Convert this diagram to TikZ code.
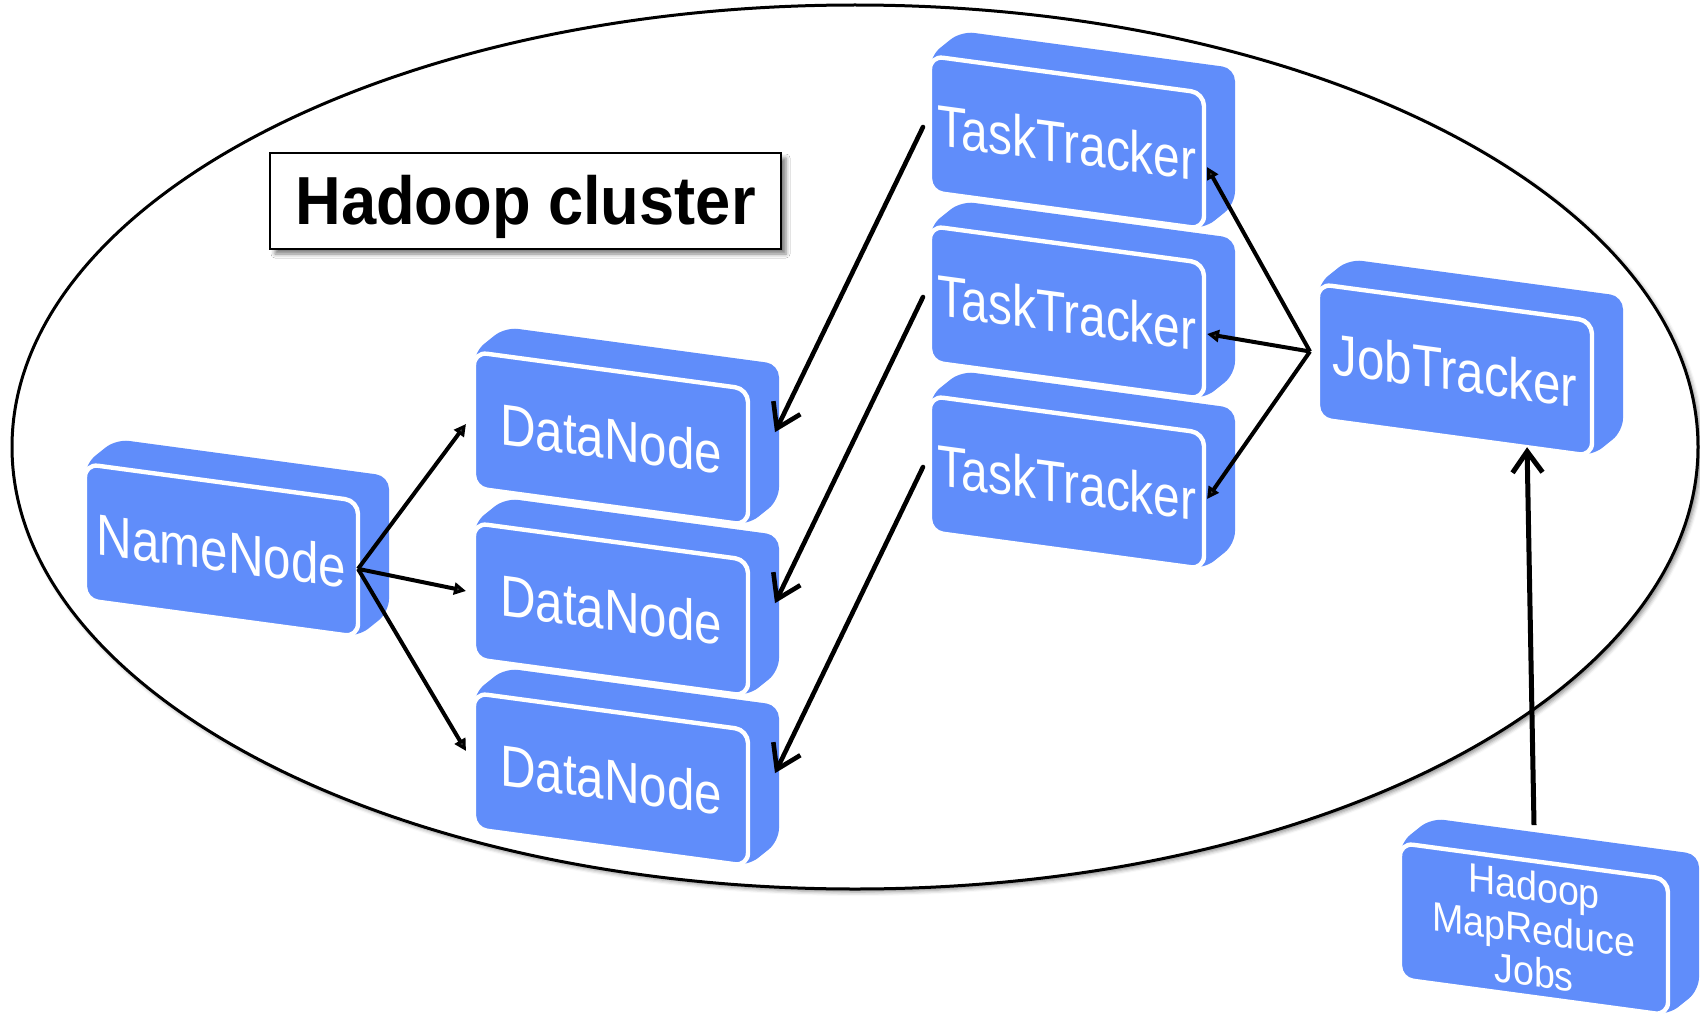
\documentclass[tikz,border=0pt]{standalone}
\usepackage{fontspec}
\setmainfont{Liberation Sans}
\usetikzlibrary{arrows.meta,shadows.blur,calc}
\definecolor{nodeblue}{RGB}{96,141,250}

\tikzset{
  blockfill/.style={fill=nodeblue, rounded corners=13pt},
  blockface/.style={fill=nodeblue, draw=white, line width=4.4pt, rounded corners=13pt},
  blocklabel/.style={text=white, font=\fontsize{58}{60}\selectfont, transform shape,
                     xscale=0.85, inner sep=0, align=center},
  boxanchor/.style={shape=rectangle, inner sep=0, outer sep=0, transform shape},
  thinarrow/.style={line width=4pt, -{Triangle[length=12pt,width=12pt]}},
  barbarrow/.style={line width=4.6pt, line cap=round,
                    -{Straight Barb[length=23pt,width=30pt,line width=4.6pt]}},
  jobarrow/.style={line width=5pt,
                   -{Straight Barb[length=21pt,width=30pt,line width=5pt]}},
}

% #1 name, #2 x, #3 y (front face top-left), #4 width, #5 height, #6 text, #7 extra label options
\newcommand{\hblock}[7]{%
  \begin{scope}[shift={(#2,#3)}, yslant=-0.135]
    \fill[blockfill] (0,0) -- (31,-29) -- (#4+31,-29) -- (#4+31,#5-29) -- (#4,#5) -- (0,#5) -- cycle;
    \filldraw[blockface] (0,0) rectangle (#4,#5);
    \node[boxanchor, minimum width=#4pt, minimum height=#5pt] (#1) at (#4/2,#5/2) {};
    \coordinate (#1-r) at (#4+31,#5/2-29);
    \node[blocklabel,#7] at (#4/2,#5/2) {#6};
  \end{scope}}

\begin{document}
\begin{tikzpicture}[x=1pt, y=-1pt]
  \useasboundingbox (0,0) rectangle (1700,1014);

  % cluster outline
  \draw[line width=3pt, fill=white,
        blur shadow={shadow xshift=3pt, shadow yshift=-3pt, shadow blur radius=4pt, shadow opacity=45}]
    (855,447) ellipse [x radius=843pt, y radius=442pt];

  % title
  \node[draw, line width=2.2pt, fill=white, inner sep=0,
        minimum width=511pt, minimum height=96pt,
        blur shadow={shadow xshift=5pt, shadow yshift=-5pt, shadow blur radius=4pt, shadow opacity=50}]
    (title) at (525.5,201) {};
  \node[font=\bfseries\fontsize{68}{70}\selectfont, xscale=0.93, inner sep=0]
    (titletext) at ([yshift=-6pt]title.center) {Hadoop cluster};

  % blocks
  \hblock{nn}{85}{464}{273}{136}{NameNode}{}
  \hblock{dn1}{474}{352}{274}{136}{DataNode}{}
  \hblock{dn2}{474}{523}{274}{136}{DataNode}{}
  \hblock{dn3}{474}{693}{274}{136}{DataNode}{}
  \hblock{tt1}{930}{56}{274}{136}{TaskTracker}{xscale=0.97}
  \hblock{tt2}{930}{226}{274}{136}{TaskTracker}{xscale=0.97}
  \hblock{tt3}{930}{396}{274}{136}{TaskTracker}{xscale=0.97}
  \hblock{jt}{1318}{284}{274}{135}{JobTracker}{}
  \hblock{jobs}{1400}{843}{268}{136}{Hadoop\\MapReduce\\Jobs}{font=\fontsize{41}{43}\selectfont, xscale=1.08}

  % NameNode to DataNodes
  \draw[thinarrow] (nn.east) -- ([xshift=-8pt,yshift=-4pt]dn1.west);
  \draw[thinarrow] (nn.east) -- ([xshift=-8pt]dn2.west);
  \draw[thinarrow] (nn.east) -- ([xshift=-8pt,yshift=10pt]dn3.west);

  % TaskTrackers to DataNodes
  \draw[barbarrow] ([xshift=-7pt,yshift=-3pt]tt1.west) -- ([xshift=-4pt]dn1-r);
  \draw[barbarrow] ([xshift=-7pt,yshift=-3pt]tt2.west) -- ([xshift=-4pt]dn2-r);
  \draw[barbarrow] ([xshift=-7pt,yshift=-3pt]tt3.west) -- ([xshift=-4pt]dn3-r);

  % JobTracker to TaskTrackers
  \draw[thinarrow] ([xshift=-8pt]jt.west) -- ([xshift=3pt,yshift=-6pt]tt1.east);
  \draw[thinarrow] ([xshift=-8pt]jt.west) -- ([xshift=3pt,yshift=-3pt]tt2.east);
  \draw[thinarrow] ([xshift=-8pt]jt.west) -- ([xshift=3pt,yshift=2pt]tt3.east);

  % jobs submitted to the JobTracker
  \draw[jobarrow] ([yshift=36pt]jobs.north) -- ($(jt.south west)!0.763!(jt.south east)$);
\end{tikzpicture}
\end{document}
